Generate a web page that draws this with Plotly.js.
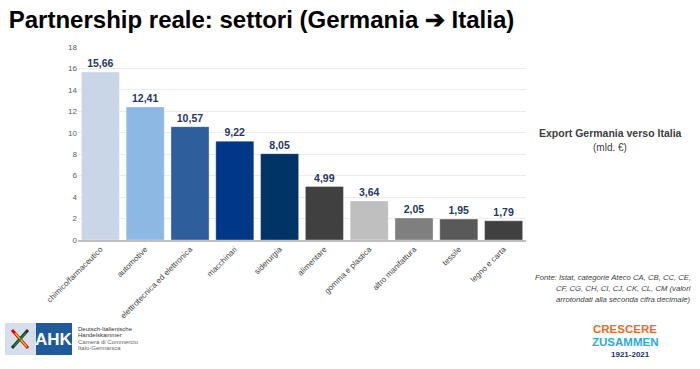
<!DOCTYPE html>
<html><head><meta charset="utf-8">
<script src="https://cdn.plot.ly/plotly-3.0.1.min.js"></script>
<style>html,body{margin:0;padding:0;background:#fff}#c{width:700px;height:369px}</style>
</head><body><div id="c"></div>
<script>
const categories = ["chimico/farmaceutico","automotive","elettrotecnica ed elettronica","macchinari","siderurgia","alimentare","gomma e plastica","altro manifattura","tessile","legno e carta"];
const values = [15.66,12.41,10.57,9.22,8.05,4.99,3.64,2.05,1.95,1.79];
const valueLabels = ["15,66","12,41","10,57","9,22","8,05","4,99","3,64","2,05","1,95","1,79"];
const barColors = ["#C9D6E8","#8DB8E3","#2E5E9C","#003887","#003366","#404040","#BFBFBF","#7F7F7F","#595959","#404040"];

const L=78, R=526, T=47, B=240;
const W=R-L, H=B-T;
const px = x => (x-L)/W;
const py = y => (B-y)/H;

const trace = {
  type:'bar', x:categories, y:values, text:valueLabels, textposition:'outside',
  textfont:{family:'Liberation Sans, Arial', size:10.5, color:'#1F3864'},
  texttemplate:'<b>%{text}</b>',
  cliponaxis:false,
  marker:{color:barColors, line:{color:'rgba(255,255,255,0.35)', width:1}},
  hoverinfo:'none'
};

const ann = [
  {text:'<b>Export Germania verso Italia</b>', x:px(610), y:py(133), font:{size:10.5,color:'#404040'}},
  {text:'(mld. €)', x:px(610), y:py(147), font:{size:10,color:'#404040'}},
  {text:'<i>Fonte: Istat, categorie Ateco CA, CB, CC, CE,</i>', x:px(692), y:py(277), xanchor:'right', font:{size:7.7,color:'#404040'}},
  {text:'<i>CF, CG, CH, CI, CJ, CK, CL, CM (valori</i>', x:px(692), y:py(288), xanchor:'right', font:{size:7.7,color:'#404040'}},
  {text:'<i>arrotondati alla seconda cifra decimale)</i>', x:px(692), y:py(299), xanchor:'right', font:{size:7.7,color:'#404040'}},
  {text:'<b>AHK</b>', x:px(54), y:py(339), font:{size:17,color:'#FFFFFF'}},
  {text:'Deutsch-Italienische', x:px(77), y:py(329), xanchor:'left', font:{size:6,color:'#333333'}},
  {text:'Handelskammer', x:px(77), y:py(335), xanchor:'left', font:{size:6,color:'#333333'}},
  {text:'Camera di Commercio', x:px(77), y:py(342), xanchor:'left', font:{size:6,color:'#666666'}},
  {text:'Italo-Germanica', x:px(77), y:py(348), xanchor:'left', font:{size:6,color:'#666666'}},
  {text:'<b>CRESCERE</b>', x:px(625), y:py(329), font:{size:11.5,color:'#F26A21'}},
  {text:'<b>ZUSAMMEN</b>', x:px(625), y:py(342), font:{size:11.5,color:'#2AA9E0'}},
  {text:'<b>1921-2021</b>', x:px(630), y:py(354.5), font:{size:8,color:'#1F2E5C'}}
].map(a=>Object.assign({xref:'paper', yref:'paper', showarrow:false, yanchor:'middle', xanchor:'center', borderpad:0}, a));

const shapes = [
  {type:'rect', xref:'paper', yref:'paper', x0:px(5), x1:px(36), y0:py(323), y1:py(355), fillcolor:'#D5DFEC', line:{width:0}, layer:'above'},
  {type:'rect', xref:'paper', yref:'paper', x0:px(36), x1:px(72), y0:py(323), y1:py(355), fillcolor:'#1F5A9C', line:{width:0}, layer:'above'},
  {type:'line', xref:'paper', yref:'paper', x0:px(12), x1:px(28), y0:py(330), y1:py(348), line:{color:'#E2001A', width:3}, layer:'above'},
  {type:'line', xref:'paper', yref:'paper', x0:px(12), x1:px(28), y0:py(348), y1:py(330), line:{color:'#2F2F2F', width:3}, layer:'above'},
  {type:'line', xref:'paper', yref:'paper', x0:px(15), x1:px(27), y0:py(333), y1:py(347), line:{color:'#F5B800', width:1.5}, layer:'above'},
  {type:'line', xref:'paper', yref:'paper', x0:px(14), x1:px(26), y0:py(346), y1:py(333), line:{color:'#009246', width:1.5}, layer:'above'}
];

const layout = {
  width:700, height:369,
  margin:{l:L, r:700-R, t:T, b:369-B, pad:0},
  paper_bgcolor:'#FFFFFF', plot_bgcolor:'#FFFFFF',
  font:{family:'Liberation Sans, Arial, sans-serif'},
  title:{text:'<b>Partnership reale: settori (Germania ➔ Italia)</b>', x:0.0125, xref:'container', xanchor:'left', y:0.946, yref:'container', yanchor:'middle', font:{size:24,color:'#000000'}},
  showlegend:false,
  bargap:0.15,
  xaxis:{type:'category', tickangle:-45, tickfont:{size:8,color:'#404040'}, showgrid:false, showline:true, linecolor:'#BFBFBF', linewidth:1.5, ticks:'', fixedrange:true, automargin:false},
  yaxis:{range:[0,18], dtick:2, tickfont:{size:8,color:'#595959'}, showgrid:true, gridcolor:'#EBEBEB', gridwidth:1, zeroline:false, showline:false, ticks:'', ticklen:6, tickcolor:'#fff', fixedrange:true, automargin:false},
  annotations:ann, shapes:shapes
};
Plotly.newPlot('c',[trace],layout,{displayModeBar:false, staticPlot:true});
</script></body></html>
